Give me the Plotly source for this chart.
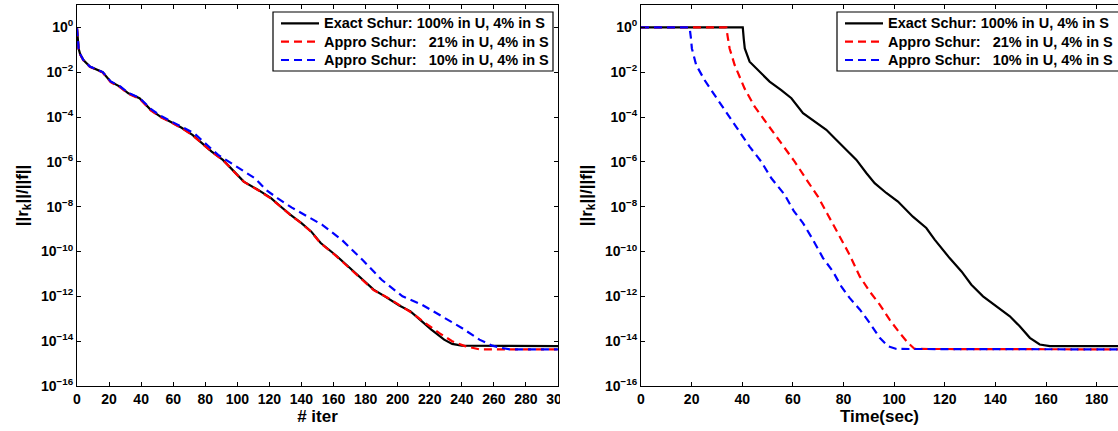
import plotly.graph_objects as go

# ---------------- data ----------------
# Left panel: residual vs iteration
iter_exact = [0, 1, 2, 4, 8, 16, 21, 27, 32, 39, 46, 52, 58, 65, 72, 78, 84, 91, 98, 104, 113, 121, 127,
              133, 140, 146, 152, 161, 169, 177, 185, 192, 201, 208, 214, 221, 229, 234, 240, 300]
res_exact = [0.91, 0.115, 0.063, 0.0347, 0.0178, 0.01, 3.8e-3, 2.24e-3, 1.15e-3, 6.9e-4, 2.1e-4, 1.05e-4,
             6.3e-5, 3.4e-5, 1.6e-5, 6.8e-6, 2.9e-6, 1.23e-6, 3.7e-7, 1.32e-7, 5.6e-8, 2.4e-8, 1.02e-8,
             4.4e-9, 1.86e-9, 7.9e-10, 2.4e-10, 7.2e-11, 2.2e-11, 6.6e-12, 2.0e-12, 1.0e-12, 3.9e-13,
             2.14e-13, 9.1e-14, 3.3e-14, 1.17e-14, 7.6e-15, 6.3e-15, 6.0e-15]

iter_a21 = [0, 1, 2, 4, 8, 16, 21, 27, 32, 39, 46, 52, 58, 65, 72, 78, 84, 91, 98, 104, 113, 121, 127,
            133, 140, 146, 152, 161, 169, 177, 185, 194, 209, 217, 226, 234, 242, 251, 300]
res_a21 = [0.9, 0.112, 0.062, 0.034, 0.0175, 0.0098, 3.6e-3, 2.1e-3, 1.1e-3, 6.6e-4, 2.0e-4, 1.0e-4,
           6.1e-5, 3.3e-5, 1.55e-5, 6.5e-6, 2.8e-6, 1.2e-6, 3.6e-7, 1.3e-7, 5.4e-8, 2.3e-8, 1.0e-8,
           4.3e-9, 1.8e-9, 7.6e-10, 2.3e-10, 6.9e-11, 2.1e-11, 6.4e-12, 1.9e-12, 8.5e-13, 1.8e-13,
           6.6e-14, 2.3e-14, 1.0e-14, 6.0e-15, 4.3e-15, 4.3e-15]

iter_a10 = [0, 1, 2, 4, 8, 16, 21, 27, 32, 39, 46, 52, 58, 65, 73, 88, 96, 104, 111, 118, 125, 134, 141,
            153, 165, 178, 190, 203, 215, 228, 240, 251, 259, 265, 270, 300]
res_a10 = [0.92, 0.118, 0.064, 0.035, 0.018, 0.0102, 3.9e-3, 2.3e-3, 1.2e-3, 7.2e-4, 2.3e-4, 1.15e-4,
           6.8e-5, 3.7e-5, 1.9e-5, 2.04e-6, 8.7e-7, 4.0e-7, 1.86e-7, 5.6e-8, 2.4e-8, 9.1e-9, 4.6e-9,
           1.55e-9, 3.4e-10, 4.3e-11, 5.5e-12, 1.0e-12, 4.3e-13, 1.29e-13, 3.9e-14, 1.17e-14, 6.3e-15,
           5.0e-15, 4.3e-15, 4.3e-15]

# Right panel: residual vs wall-clock time (sec)
time_exact = [0, 40.2, 40.6, 41.0, 42.9, 47.5, 50.8, 55.4, 59.4, 64.0, 68.6, 73.2, 77.2, 81.1, 85.1, 89.0,
              92.3, 96.9, 101.5, 107.4, 112.7, 116.0, 121.9, 126.6, 130.5, 135.1, 140.4, 145.7, 149.6,
              153.6, 157.5, 161.5, 190]
tres_exact = [1.0, 1.0, 0.3, 0.115, 0.0295, 8.9e-3, 3.8e-3, 1.6e-3, 6.9e-4, 1.48e-4, 6.3e-5, 2.7e-5,
              9.5e-6, 3.4e-6, 1.23e-6, 3.2e-7, 1.12e-7, 4.1e-8, 1.7e-8, 3.6e-9, 1.12e-9, 3.4e-10,
              5.1e-11, 1.29e-11, 3.3e-12, 1.0e-12, 3.5e-13, 1.29e-13, 4.6e-14, 1.41e-14, 7.1e-15,
              6.0e-15, 6.0e-15]

time_a21 = [0, 33.7, 34.3, 35.0, 37.0, 40.9, 44.9, 50.1, 55.4, 60.7, 65.9, 69.9, 73.8, 78.5, 82.4, 86.4,
            90.3, 94.3, 98.2, 102.2, 105.5, 108.1, 190]
tres_a21 = [1.0, 1.0, 0.35, 0.115, 0.021, 1.9e-3, 2.9e-4, 4.5e-5, 6.8e-6, 1.02e-6, 1.32e-7, 2.8e-8,
            4.4e-9, 4.7e-10, 7.2e-11, 7.8e-12, 1.66e-12, 4.3e-13, 9.1e-14, 2.3e-14, 8.3e-15, 4.5e-15,
            4.3e-15]

time_a10 = [0, 19.2, 19.7, 20.1, 21.8, 25.1, 29.1, 33.0, 38.3, 42.9, 47.5, 51.5, 56.7, 60.4, 64.0, 67.9,
            71.9, 75.8, 79.1, 82.4, 86.4, 90.3, 94.3, 97.5, 100.9, 190]
tres_a10 = [1.0, 1.0, 0.35, 0.115, 0.021, 4.5e-3, 9.5e-4, 2.1e-4, 2.7e-5, 4.8e-6, 1.02e-6, 1.86e-7,
            3.5e-8, 6.3e-9, 1.86e-9, 3.4e-10, 5.1e-11, 1.29e-11, 2.8e-12, 8.5e-13, 2.6e-13, 6.6e-14,
            1.41e-14, 6.0e-15, 4.5e-15, 4.3e-15]

series_names = ["Exact Schur: 100% in U, 4% in S",
                "Appro Schur:\u00a0\u00a0\u00a021% in U, 4% in S",
                "Appro Schur:\u00a0\u00a0\u00a010% in U, 4% in S"]
series_colors = ["#000000", "#ff0000", "#0000ff"]
series_dash = ["solid", "8px,5px", "8px,5px"]

iter_ticks = list(range(0, 301, 20))
time_ticks = list(range(0, 181, 20))
exp_ticks = [0, -2, -4, -6, -8, -10, -12, -14, -16]

# ---------------- figure ----------------
W, H = 1118, 431
ML, MT, MB = 77, 5, 45
PW = W - ML
PH = H - MT - MB


def px_x(p):
    return (p - ML) / PW


def px_y(p):
    return (H - MB - p) / PH


fig = go.Figure()

left = [(iter_exact, res_exact), (iter_a21, res_a21), (iter_a10, res_a10)]
right = [(time_exact, tres_exact), (time_a21, tres_a21), (time_a10, tres_a10)]

for i, (xs, ys) in enumerate(left):
    fig.add_trace(go.Scatter(x=xs, y=ys, mode="lines", name=series_names[i], showlegend=False,
                             line=dict(color=series_colors[i], width=2.2, dash=series_dash[i]),
                             xaxis="x", yaxis="y"))
for i, (xs, ys) in enumerate(right):
    fig.add_trace(go.Scatter(x=xs, y=ys, mode="lines", name=series_names[i], showlegend=False,
                             line=dict(color=series_colors[i], width=2.2, dash=series_dash[i]),
                             xaxis="x2", yaxis="y2"))

ytickvals = [10.0 ** e for e in exp_ticks]
yticktext = ["10<sup>%s</sup>" % (str(e).replace("-", "\u2212")) for e in exp_ticks]

FONT = "Liberation Sans, Arial, Helvetica, sans-serif"
tickfont = dict(family=FONT, size=14, color="black", weight="bold")
titlefont = dict(family=FONT, size=17, color="black", weight="bold")
legfont = dict(family=FONT, size=14.5, color="black", weight="bold")

common_x = dict(ticks="inside", ticklen=4, tickcolor="black", showline=True, linecolor="black",
                linewidth=1, mirror="ticks", showgrid=False, zeroline=False, tickfont=tickfont)
common_y = dict(type="log", range=[-16, 1], tickvals=ytickvals, ticktext=yticktext,
                ticks="inside", ticklen=4, tickcolor="black", showline=True, linecolor="black",
                linewidth=1, showgrid=False, zeroline=False, tickfont=tickfont)

fig.update_layout(
    width=W, height=H,
    margin=dict(l=ML, r=0, t=MT, b=MB, autoexpand=False),
    plot_bgcolor="white", paper_bgcolor="white",
    font=dict(family=FONT, size=14, color="black", weight="bold"),
    showlegend=False,
    xaxis=dict(domain=[0, px_x(558)], range=[0, 300], tickvals=iter_ticks,
               title=dict(text="# iter", font=titlefont, standoff=2), anchor="y", **common_x),
    yaxis=dict(domain=[0, 1], anchor="x", mirror="ticks",
               title=dict(text="||r<sub>k</sub>||/||f||", font=titlefont, standoff=8), **common_y),
    xaxis2=dict(domain=[px_x(641), 1], range=[0, 190 * (W - 641) / (1122 - 641)], tickvals=time_ticks,
                title=dict(text="Time(sec)", font=titlefont, standoff=2), anchor="y2", **common_x),
    yaxis2=dict(domain=[0, 1], anchor="x2", mirror=False,
                title=dict(text="||r<sub>k</sub>||/||f||", font=titlefont, standoff=8), **common_y),
)

# ---- legends (boxed, MATLAB style), one per panel ----
legend_boxes = [(273, 553), (837, 1130)]
row_y = [23.3, 41.7, 60.0]
for bx0, bx1 in legend_boxes:
    fig.add_shape(type="rect", xref="paper", yref="paper",
                  x0=px_x(bx0), x1=px_x(bx1), y0=px_y(71), y1=px_y(12),
                  line=dict(color="black", width=1.2), fillcolor="white", layer="above")
    for i in range(3):
        fig.add_shape(type="line", xref="paper", yref="paper",
                      x0=px_x(bx0 + 8), x1=px_x(bx0 + 46), y0=px_y(row_y[i]), y1=px_y(row_y[i]),
                      line=dict(color=series_colors[i], width=2.2, dash=series_dash[i]), layer="above")
        fig.add_annotation(xref="paper", yref="paper", x=px_x(bx0 + 50), y=px_y(row_y[i]),
                           xanchor="left", yanchor="middle", text=series_names[i], showarrow=False,
                           font=legfont, borderpad=0)

# the reference's left panel is cropped just right of its frame
fig.add_shape(type="rect", xref="paper", yref="paper",
              x0=px_x(560), x1=px_x(578), y0=-MB / PH, y1=-4 / PH,
              line=dict(width=0), fillcolor="white", layer="above")

fig.write_html("out.html",
               config={"displayModeBar": False, "staticPlot": True},
               post_script="document.body.style.margin='0';"
                           "document.documentElement.style.overflow='hidden';"
                           "document.body.style.overflow='hidden';")
